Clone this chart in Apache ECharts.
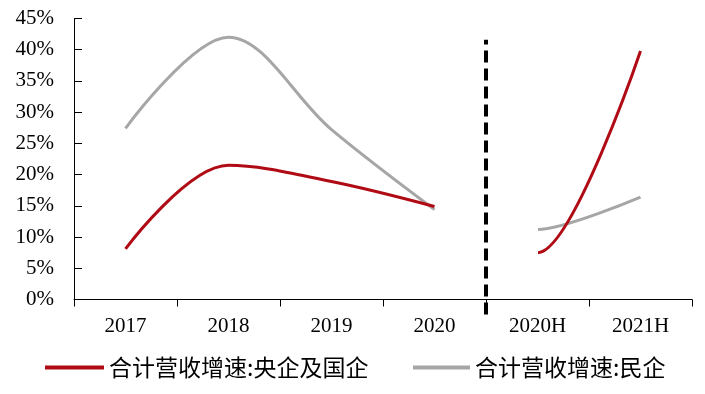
<!DOCTYPE html>
<html>
<head>
<meta charset="utf-8">
<script src="https://cdn.jsdelivr.net/npm/echarts@6/dist/echarts.min.js"></script>
<style>html,body{margin:0;padding:0;background:#fff;}#c{width:705px;height:394px;}</style>
</head>
<body>
<div id="c"></div>
<script>
const categories = ['2017', '2018', '2019', '2020', '2020H', '2021H'];
const soeName = '合计营收增速:央企及国企';
const privName = '合计营收增速:民企';
const soeValues = [8.1, 21.5, 18.9, 14.9, 7.5, 39.8];
const privValues = [27.4, 42.0, 27.2, 14.4, 11.2, 16.4];
const splitIndex = 4; // annual vs half-year split
const dividerX = [4, 4];
const dividerY = [-2.4, 41.6];

function part(values, from, to) {
  return values.map((v, i) => (i >= from && i < to ? v : null));
}
const red = '#B00A14';
const grey = '#A6A6A6';
const CLEAR = 'rgba(255,255,255,0)';
function lineSeries(name, data, color, z, smooth) {
  const s = {
    name, type: 'line', data, smooth, symbol: 'none', connectNulls: false, z,
    lineStyle: { width: 3 }
  };
  if (color) { s.lineStyle.color = color; s.itemStyle = { color }; }
  return s;
}
function hideBridge(seriesIndex, color) {
  return {
    type: 'piecewise', show: false, seriesIndex, dimension: 0,
    pieces: [
      { lt: splitIndex - 1, color: CLEAR },
      { gte: splitIndex - 1, lt: splitIndex, color: CLEAR },
      { gte: splitIndex, color }
    ]
  };
}
const legendText = { fontFamily: 'Noto Sans CJK SC', fontSize: 23, color: '#000' };
const chart = echarts.init(document.getElementById('c'), null, { renderer: 'canvas' });
chart.setOption({
  animation: false,
  backgroundColor: '#fff',
  grid: { left: 74, right: 13, top: 18.5, bottom: 94.5 },
  legend: [{
    data: [soeName], left: 40, top: 351,
    icon: 'rect', itemWidth: 59, itemHeight: 4, itemGap: 0, textStyle: legendText
  }, {
    data: [privName], left: 408, top: 351,
    icon: 'rect', itemWidth: 57, itemHeight: 4, itemGap: 0, textStyle: legendText
  }],
  visualMap: [hideBridge(1, grey), hideBridge(3, red)],
  xAxis: [{
    type: 'category', data: categories, boundaryGap: true,
    axisLine: { lineStyle: { color: '#000', width: 1 } },
    axisTick: { show: true, inside: false, length: 7, lineStyle: { color: '#000' } },
    axisLabel: { color: '#000', fontFamily: 'Liberation Serif', fontSize: 21, margin: 16 }
  }, {
    type: 'value', min: 0, max: 6, show: false
  }],
  yAxis: {
    type: 'value', min: 0, max: 45, interval: 5,
    axisLine: { show: true, lineStyle: { color: '#000', width: 1 } },
    axisTick: { show: true, inside: true, length: 8, lineStyle: { color: '#000' } },
    splitLine: { show: false },
    axisLabel: { color: '#000', fontFamily: 'Liberation Serif', fontSize: 21, margin: 20, formatter: '{value}%' }
  },
  series: [
    lineSeries(privName, part(privValues, 0, splitIndex), grey, 2, 0.35),
    lineSeries(privName, part(privValues, splitIndex - 1, categories.length), null, 2, 0.25),
    lineSeries(soeName, part(soeValues, 0, splitIndex), red, 3, 0.35),
    lineSeries(soeName, part(soeValues, splitIndex - 1, categories.length), null, 3, 0.25),
    {
      type: 'line', xAxisIndex: 1, symbol: 'none', clip: false, silent: true, z: 4,
      data: dividerX.map((x, i) => [x, dividerY[i]]),
      lineStyle: { color: '#000', width: 4, type: [12, 6] }
    }
  ]
});
</script>
</body>
</html>
